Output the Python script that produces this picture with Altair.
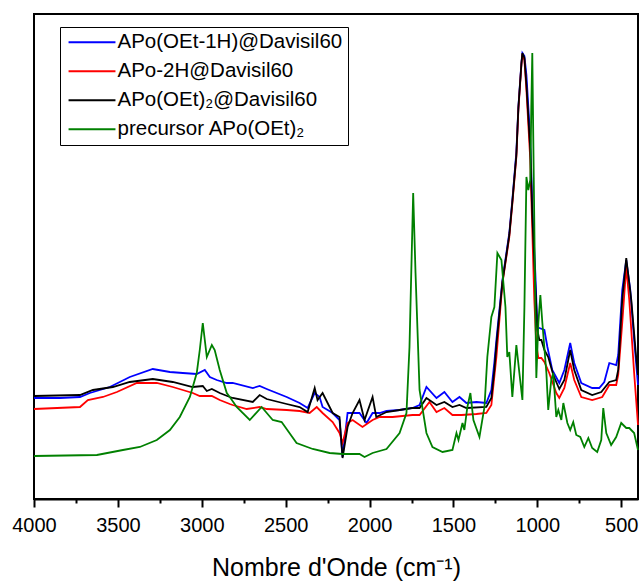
import altair as alt
import pandas as pd

# ---- data (wavenumber in cm-1, absorbance in arbitrary units) ----
SERIES = ["APo(OEt-1H)@Davisil60", "APo-2H@Davisil60", "APo(OEt)₂@Davisil60", "precursor APo(OEt)₂"]
COLORS = ["#0000FF", "#FF0000", "#000000", "#008000"]

blue_wn = [4000, 3845, 3726, 3667, 3548, 3429, 3292, 3190, 3113, 3030, 2982, 2952, 2911, 2851, 2816,
           2696, 2655, 2613, 2494, 2417, 2369, 2327, 2298, 2280, 2220, 2179, 2161, 2131, 2101, 2060,
           2018, 1982, 1940, 1899, 1821, 1744, 1702, 1661, 1601, 1554, 1506, 1464, 1423, 1363, 1304,
           1274, 1256, 1244, 1208, 1167, 1149, 1125, 1113, 1095, 1089, 1077, 1065, 1042, 1030, 1012,
           1000, 988, 958, 940, 911, 869, 839, 804, 780, 738, 673, 631, 601, 571, 530, 518, 494, 470,
           446, 423, 400]
blue_ab = [101, 101, 102, 106, 112, 122, 130, 127, 126, 125, 129, 122, 119, 116, 116,
           111, 113, 110, 102, 96, 91, 106, 102, 92, 86, 79, 42, 86, 86, 86,
           76, 86, 86, 88, 89, 91, 94, 112, 101, 107, 97, 102, 96, 97, 96,
           109, 137, 159, 219, 266, 299, 347, 392, 436, 446, 443, 424, 359, 292, 226,
           172, 171, 169, 152, 129, 116, 129, 156, 136, 116, 111, 111, 117, 136, 134, 144, 209, 239,
           209, 159, 114]

red_wn = [4000, 3726, 3679, 3589, 3506, 3387, 3268, 3173, 3054, 3012, 2940, 2893, 2833, 2816, 2732,
          2655, 2613, 2494, 2417, 2357, 2315, 2280, 2220, 2179, 2161, 2131, 2101, 2042, 1982, 1940,
          1863, 1744, 1702, 1643, 1601, 1554, 1506, 1452, 1363, 1304, 1274, 1244, 1208, 1167, 1149,
          1125, 1113, 1095, 1089, 1077, 1065, 1042, 1030, 1018, 1006, 994, 976, 958, 929, 887, 869,
          839, 804, 780, 738, 673, 613, 571, 530, 518, 494, 470, 452, 423, 400]
red_ab = [90, 92, 99, 102, 107, 116, 116, 112, 106, 103, 103, 99, 95, 94, 90,
          92, 90, 89, 88, 86, 92, 86, 77, 66, 56, 76, 79, 72, 79, 82,
          82, 84, 84, 97, 87, 91, 84, 84, 85, 86, 94, 142, 216, 262, 295,
          342, 389, 434, 445, 439, 409, 339, 269, 199, 154, 141, 141, 137, 126, 106, 101,
          111, 136, 119, 102, 99, 102, 114, 114, 124, 176, 232, 199, 126, 74]

black_wn = [4000, 3726, 3649, 3530, 3429, 3292, 3173, 3054, 2994, 2970, 2940, 2893, 2833, 2816, 2696,
            2655, 2613, 2494, 2417, 2369, 2327, 2310, 2280, 2238, 2220, 2179, 2161, 2131, 2101, 2060,
            2030, 1982, 1960, 1899, 1821, 1744, 1702, 1661, 1601, 1554, 1506, 1464, 1423, 1304, 1274,
            1256, 1244, 1208, 1167, 1149, 1125, 1113, 1095, 1089, 1077, 1065, 1042, 1030, 1012, 1000,
            988, 976, 958, 935, 905, 869, 839, 804, 780, 738, 673, 619, 571, 530, 518, 494, 470, 440,
            411, 400]
black_ab = [103, 104, 109, 112, 117, 120, 117, 112, 113, 108, 110, 106, 102, 101, 97,
            104, 100, 95, 92, 87, 111, 99, 106, 92, 86, 82, 41, 72, 86, 99,
            79, 102, 82, 87, 89, 91, 91, 101, 94, 97, 92, 94, 91, 92, 101,
            129, 154, 217, 264, 297, 344, 391, 435, 446, 441, 414, 349, 284, 214, 169,
            159, 159, 149, 142, 124, 110, 119, 149, 129, 109, 104, 107, 117, 119, 129, 199, 241, 199,
            142, 124]

green_wn = [4000, 3625, 3470, 3369, 3268, 3190, 3131, 3071, 3030, 3012, 2994, 2970, 2940, 2923, 2893,
            2851, 2833, 2792, 2714, 2643, 2577, 2524, 2435, 2339, 2238, 2161, 2060, 2030, 1982, 1899,
            1821, 1780, 1762, 1740, 1726, 1702, 1661, 1625, 1565, 1506, 1482, 1470, 1446, 1435, 1417,
            1399, 1381, 1345, 1315, 1298, 1274, 1256, 1238, 1214, 1190, 1179, 1167, 1149, 1125, 1107,
            1089, 1077, 1065, 1054, 1042, 1036, 1030, 1024, 1012, 1006, 994, 982, 970, 946, 935, 917,
            905, 887, 875, 857, 845, 821, 804, 786, 768, 744, 720, 696, 673, 643, 619, 607, 589, 560,
            530, 500, 470, 452, 423, 400]
green_ab = [43, 44, 49, 52, 59, 69, 82, 102, 126, 149, 176, 142, 154, 149, 129,
            106, 102, 92, 79, 92, 79, 77, 56, 50, 46, 45, 45, 42, 46, 50,
            66, 86, 152, 306, 226, 109, 66, 52, 47, 49, 66, 59, 76, 69, 92,
            106, 79, 62, 92, 142, 182, 192, 246, 239, 192, 142, 147, 102, 154, 126,
            99, 192, 322, 309, 319, 392, 446, 359, 192, 121, 176, 204, 176, 126, 89, 119,
            126, 82, 89, 79, 96, 76, 69, 77, 64, 62, 52, 61, 51, 47, 59, 91, 66, 54,
            62, 76, 71, 71, 66, 49]

MAJOR_TICKS = [4000, 3500, 3000, 2500, 2000, 1500, 1000, 500]
MINOR_TICKS = [3750, 3250, 2750, 2250, 1750, 1250, 750]

frames = []
for name, wn, ab in [(SERIES[0], blue_wn, blue_ab), (SERIES[1], red_wn, red_ab),
                     (SERIES[2], black_wn, black_ab), (SERIES[3], green_wn, green_ab)]:
    frames.append(pd.DataFrame({"wn": wn, "ab": ab, "series": name}))
df = pd.concat(frames, ignore_index=True)

FONT = "Liberation Sans"
x_scale = alt.Scale(domain=[400, 4000], reverse=True, nice=False, zero=False)

x_major = alt.X(
    "wn:Q",
    scale=x_scale,
    axis=alt.Axis(
        orient="bottom",
        values=MAJOR_TICKS,
        format="d",
        ticks=True,
        tickSize=8,
        tickWidth=2,
        tickColor="black",
        domainColor="black",
        domainWidth=2,
        grid=False,
        labelFont=FONT,
        labelFontSize=20,
        labelColor="black",
        labelBaseline="alphabetic",
        labelPadding=24,
        labelFlush=False,
        labelOverlap=False,
        title="Nombre d'Onde (cm⁻¹)",
        titleFont=FONT,
        titleFontSize=25,
        titleFontWeight="normal",
        titleColor="black",
        titleBaseline="alphabetic",
        titleY=76,
    ),
)
x_minor = alt.X(
    "wn:Q",
    scale=x_scale,
    axis=alt.Axis(
        orient="bottom",
        values=MINOR_TICKS,
        ticks=True,
        tickSize=4,
        tickWidth=2,
        tickColor="black",
        domain=False,
        labels=False,
        grid=False,
        title=None,
    ),
)
y_enc = alt.Y("ab:Q", scale=alt.Scale(domain=[0, 485], nice=False), axis=None)
color_enc = alt.Color(
    "series:N",
    scale=alt.Scale(domain=SERIES, range=COLORS),
    legend=alt.Legend(
        title=None,
        orient="none",
        legendX=26,
        legendY=13,
        strokeColor="black",
        fillColor="white",
        padding=5,
        rowPadding=8,
        symbolType="M-1,0H9",
        symbolSize=88,
        symbolStrokeWidth=1.8,
        symbolOffset=-2,
        labelOffset=34,
        labelFont=FONT,
        labelFontSize=20.5,
        labelColor="black",
        labelLimit=0,
    ),
)

lines = []
for name in SERIES:
    lines.append(
        alt.Chart(df)
        .transform_filter(alt.datum.series == name)
        .mark_line(strokeWidth=1.8)
        .encode(x=x_major, y=y_enc, color=color_enc)
    )
main = alt.layer(*lines)

# invisible layer that only carries the minor-tick axis
minor = (
    alt.Chart(df)
    .transform_filter(alt.datum.series == SERIES[0])
    .mark_line(opacity=0)
    .encode(x=x_minor, y=y_enc)
)

chart = (
    alt.layer(main, minor)
    .resolve_axis(x="independent")
    .properties(
        width=604,
        height=485,
        padding={"left": 34, "top": 14, "right": 2, "bottom": 82},
        autosize=alt.AutoSizeParams(type="none"),
        background="white",
    )
    .configure_axis(ticks=True)
    .configure_view(stroke="black", strokeWidth=2)
)

chart.save("out.html", embed_options={"renderer": "svg", "actions": False})
